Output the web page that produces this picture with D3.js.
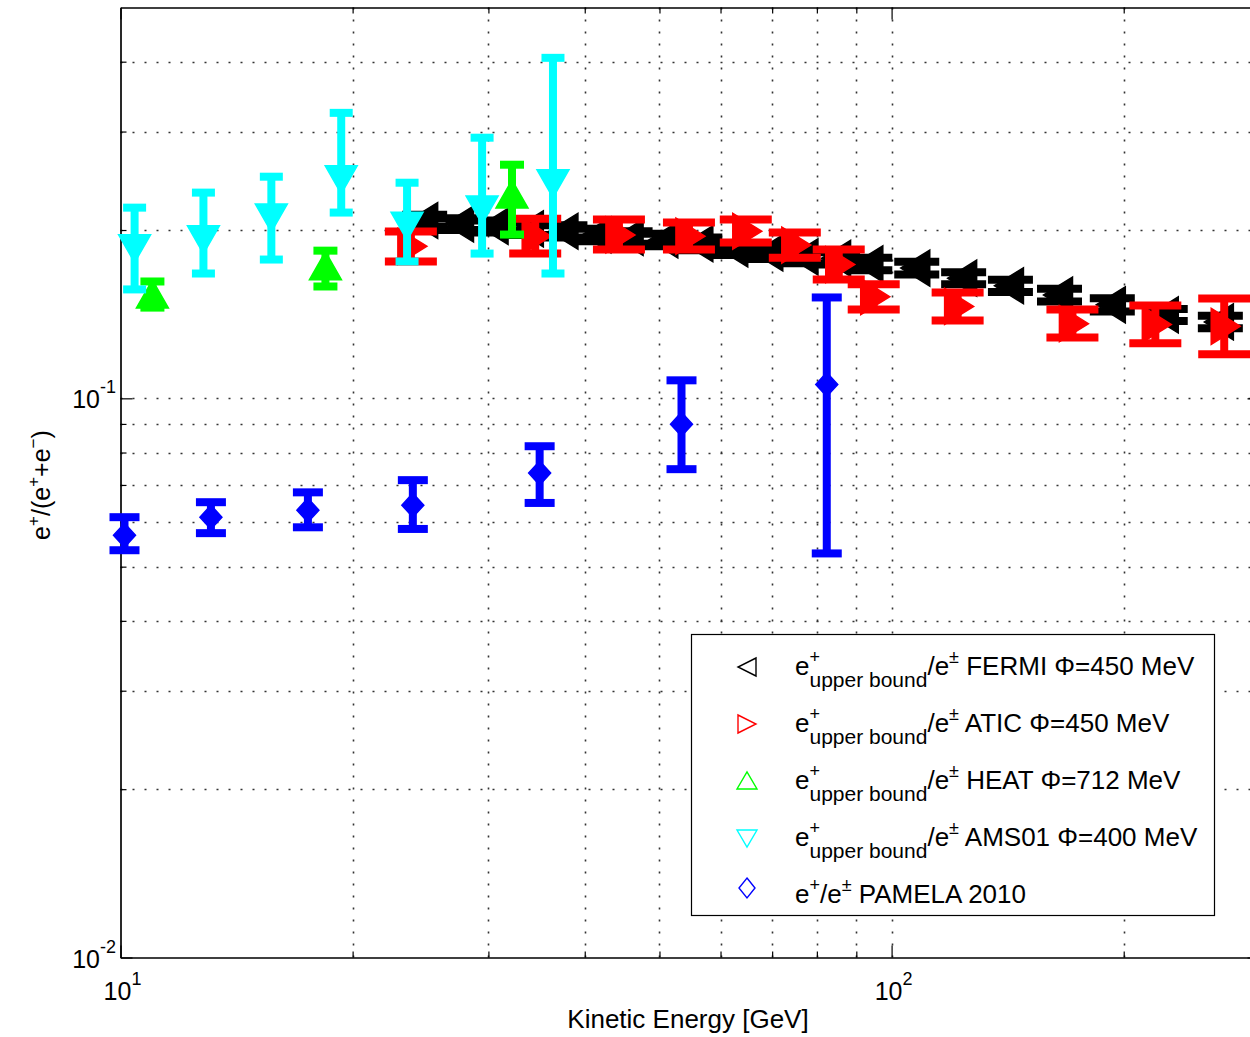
<!DOCTYPE html>
<html>
<head>
<meta charset="utf-8">
<script src="https://cdn.jsdelivr.net/npm/d3@7"></script>
<style>
body { margin: 0; background: #fff; }
text { font-family: "Liberation Sans", Arial, sans-serif; fill: #000; }
</style>
</head>
<body>
<div id="chart-area"></div>
<script>
// ---- data ----
// FERMI upper bound
var fermiE   = [24.8, 27.6, 30.6, 34.0, 37.7, 41.6, 45.8, 50.8, 56.4, 62.6, 69.5, 77.2, 85.1, 93.7, 107.8, 124.0, 142.6, 165.1, 193.3, 226.4, 266.9];
var fermiY   = [0.208, 0.205, 0.203, 0.201, 0.199, 0.196, 0.194, 0.192, 0.189, 0.185, 0.182, 0.179, 0.178, 0.174, 0.171, 0.164, 0.159, 0.153, 0.147, 0.141, 0.137];
var fermiErr = [0.005, 0.005, 0.005, 0.005, 0.005, 0.005, 0.005, 0.005, 0.005, 0.0045, 0.0045, 0.0045, 0.0045, 0.0045, 0.0045, 0.004, 0.004, 0.004, 0.004, 0.0035, 0.0035];

// ATIC upper bound
var aticE  = [23.8, 34.5, 44.3, 54.6, 64.7, 74.9, 85.4, 94.8, 121.8, 171.6, 219.8, 270.0];
var aticY  = [0.187, 0.195, 0.196, 0.195, 0.199, 0.188, 0.1735, 0.152, 0.146, 0.136, 0.1356, 0.1345];
var aticLo = [0.1757, 0.1815, 0.1846, 0.1846, 0.1899, 0.1785, 0.1632, 0.1442, 0.1378, 0.1285, 0.1254, 0.1199];
var aticHi = [0.1987, 0.2096, 0.2088, 0.2062, 0.2088, 0.1979, 0.1846, 0.1599, 0.1546, 0.1442, 0.1466, 0.1509];

// HEAT upper bound
var heatE  = [11.0, 18.44, 32.19];
var heatY  = [0.153, 0.172, 0.231];
var heatLo = [0.1453, 0.1585, 0.1963];
var heatHi = [0.1618, 0.1837, 0.2617];

// AMS01 upper bound
var amsE  = [10.43, 12.81, 15.69, 19.33, 23.53, 29.44, 36.38];
var amsY  = [0.186, 0.193, 0.211, 0.247, 0.204, 0.218, 0.243];
var amsLo = [0.1566, 0.1672, 0.1771, 0.2149, 0.1757, 0.1815, 0.1672];
var amsHi = [0.2193, 0.2333, 0.2491, 0.324, 0.243, 0.2925, 0.4064];

// PAMELA 2010
var pamE  = [10.12, 13.10, 17.50, 23.94, 34.96, 53.4, 82.4];
var pamY  = [0.0569, 0.0613, 0.0631, 0.0644, 0.0735, 0.0899, 0.1059];
var pamLo = [0.0535, 0.0574, 0.0588, 0.0584, 0.0650, 0.0747, 0.0528];
var pamHi = [0.0613, 0.0652, 0.0679, 0.0714, 0.0821, 0.1077, 0.1515];

var legendNames = ["FERMI \u03A6=450 MeV", "ATIC \u03A6=450 MeV", "HEAT \u03A6=712 MeV", "AMS01 \u03A6=400 MeV", "PAMELA 2010"];

// ticks / grid
var xMajor = [10, 100];
var xMinor = [20, 30, 40, 50, 60, 70, 80, 90, 200];
var yMajor = [0.01, 0.1];
var yMinor = [0.02, 0.03, 0.04, 0.05, 0.06, 0.07, 0.08, 0.09, 0.2, 0.3, 0.4];
var xLabels = [{v: 10, e: "1"}, {v: 100, e: "2"}];
var yLabels = [{v: 0.1, e: "-1"}, {v: 0.01, e: "-2"}];

// ---- layout ----
var width = 1250, height = 1037;
var x0 = 120.5, x1 = 1259.5, y0 = 957.5, y1 = 7.5;

var svg = d3.select("#chart-area")
    .append("svg")
    .attr("width", width)
    .attr("height", height);

var x = d3.scaleLog().domain([10, 300]).range([x0, x1]);
var y = d3.scaleLog().domain([0.01, 0.5]).range([y0, y1]);

// grid (dotted)
var grid = svg.append("g")
    .attr("stroke", "#333")
    .attr("stroke-width", 1.6)
    .attr("stroke-dasharray", "2,10");
grid.selectAll(".gx")
    .data(xMajor.concat(xMinor).filter(function(d){ return d > 10; }))
    .enter().append("line")
    .attr("x1", function(d){ return Math.round(x(d)) + 0.5; })
    .attr("x2", function(d){ return Math.round(x(d)) + 0.5; })
    .attr("y1", y0).attr("y2", y1);
grid.selectAll(".gy")
    .data(yMajor.concat(yMinor).filter(function(d){ return d > 0.01; }))
    .enter().append("line")
    .attr("y1", function(d){ return Math.round(y(d)) + 0.5; })
    .attr("y2", function(d){ return Math.round(y(d)) + 0.5; })
    .attr("x1", x0).attr("x2", x1);

// axes with inward ticks (matlab style)
function addAxis(axisFn, scale, vals, size, transform) {
    var g = svg.append("g")
        .attr("transform", transform)
        .call(axisFn(scale).tickValues(vals).tickSizeInner(size).tickSizeOuter(0).tickFormat(""));
    g.select(".domain").attr("stroke", "#000").attr("stroke-width", 1.2);
    g.selectAll(".tick line").attr("stroke", "#000").attr("stroke-width", 1.2);
}
addAxis(d3.axisBottom, x, xMajor, -12, "translate(0," + y0 + ")");
addAxis(d3.axisBottom, x, xMinor, -6, "translate(0," + y0 + ")");
addAxis(d3.axisTop, x, xMajor, -12, "translate(0," + y1 + ")");
addAxis(d3.axisTop, x, xMinor, -6, "translate(0," + y1 + ")");
addAxis(d3.axisLeft, y, yMajor, -12, "translate(" + x0 + ",0)");
addAxis(d3.axisLeft, y, yMinor, -6, "translate(" + x0 + ",0)");
addAxis(d3.axisRight, y, yMajor, -12, "translate(" + x1 + ",0)");
addAxis(d3.axisRight, y, yMinor, -6, "translate(" + x1 + ",0)");

// tick labels 10^n
xLabels.forEach(function(d) {
    var t = svg.append("text")
        .attr("x", x(d.v) + 2)
        .attr("y", y0 + 42)
        .attr("text-anchor", "middle")
        .attr("font-size", 25);
    t.append("tspan").text("10");
    t.append("tspan").attr("font-size", 18).attr("dy", -15).text(d.e);
});
yLabels.forEach(function(d) {
    var t = svg.append("text")
        .attr("x", 116)
        .attr("y", y(d.v) + 10)
        .attr("text-anchor", "end")
        .attr("font-size", 25);
    t.append("tspan").text("10");
    t.append("tspan").attr("font-size", 18).attr("dy", -15).text(d.e);
});

// axis titles
svg.append("text")
    .attr("x", 688)
    .attr("y", 1028)
    .attr("text-anchor", "middle")
    .attr("font-size", 26)
    .text("Kinetic Energy [GeV]");

var yt = svg.append("text")
    .attr("transform", "translate(50,485) rotate(-90)")
    .attr("text-anchor", "middle")
    .attr("font-size", 25);
yt.append("tspan").text("e");
yt.append("tspan").attr("font-size", 17).attr("dy", -11).text("+");
yt.append("tspan").attr("dy", 11).text("/(e");
yt.append("tspan").attr("font-size", 17).attr("dy", -11).text("+");
yt.append("tspan").attr("dy", 11).text("+e");
yt.append("tspan").attr("font-size", 17).attr("dy", -11).text("\u2212");
yt.append("tspan").attr("dy", 11).text(")");

// ---- markers ----
var shapes = {
    left:  [[13, -18], [13, 18], [-16, 0]],
    right: [[-13, -18], [-13, 18], [16, 0]],
    up:    [[-16, 13], [16, 13], [0, -15]],
    down:  [[-16, -13], [16, -13], [0, 15]],
    diamond: [[0, -12], [11, 0], [0, 12], [-11, 0]]
};
var legendShapes = {
    left:  [[9, -9], [9, 9], [-9, 0]],
    right: [[-9, -9], [-9, 9], [9, 0]],
    up:    [[-10, 8], [10, 8], [0, -9]],
    down:  [[-10, -8], [10, -8], [0, 9]],
    diamond: [[0, -10], [8, 0], [0, 10], [-8, 0]]
};
function pts(list) {
    return list.map(function(p){ return p[0] + "," + p[1]; }).join(" ");
}

var series = [
    {E: fermiE, Y: fermiY, lo: fermiY.map(function(v, i){ return v - fermiErr[i]; }),
     hi: fermiY.map(function(v, i){ return v + fermiErr[i]; }), color: "#000", cap: 45, shape: "left"},
    {E: aticE, Y: aticY, lo: aticLo, hi: aticHi, color: "#ff0000", cap: 52, shape: "right"},
    {E: heatE, Y: heatY, lo: heatLo, hi: heatHi, color: "#00ff00", cap: 24, shape: "up"},
    {E: amsE, Y: amsY, lo: amsLo, hi: amsHi, color: "#00ffff", cap: 23, shape: "down"},
    {E: pamE, Y: pamY, lo: pamLo, hi: pamHi, color: "#0000ff", cap: 30, shape: "diamond"}
];

series.forEach(function(s) {
    var data = s.E.map(function(e, i){ return {e: e, v: s.Y[i], lo: s.lo[i], hi: s.hi[i]}; });
    var g = svg.append("g").attr("stroke", s.color).attr("stroke-width", 8);
    g.selectAll(".stem").data(data).enter().append("line")
        .attr("x1", function(d){ return x(d.e); })
        .attr("x2", function(d){ return x(d.e); })
        .attr("y1", function(d){ return y(d.lo); })
        .attr("y2", function(d){ return y(d.hi); });
    g.selectAll(".capl").data(data).enter().append("line")
        .attr("x1", function(d){ return x(d.e) - s.cap / 2; })
        .attr("x2", function(d){ return x(d.e) + s.cap / 2; })
        .attr("y1", function(d){ return y(d.lo); })
        .attr("y2", function(d){ return y(d.lo); });
    g.selectAll(".caph").data(data).enter().append("line")
        .attr("x1", function(d){ return x(d.e) - s.cap / 2; })
        .attr("x2", function(d){ return x(d.e) + s.cap / 2; })
        .attr("y1", function(d){ return y(d.hi); })
        .attr("y2", function(d){ return y(d.hi); });
    svg.append("g").selectAll("polygon").data(data).enter().append("polygon")
        .attr("points", pts(shapes[s.shape]))
        .attr("transform", function(d){ return "translate(" + x(d.e) + "," + y(d.v) + ")"; })
        .attr("fill", s.color)
        .attr("stroke", s.color)
        .attr("stroke-width", 1.5);
});

// ---- legend ----
var lg = svg.append("g");
lg.append("rect")
    .attr("x", 691.5).attr("y", 634.5)
    .attr("width", 523).attr("height", 281)
    .attr("fill", "#fff").attr("stroke", "#000").attr("stroke-width", 1.2);

var rowBase = [675, 732, 789, 846, 903];
var rowMark = [667, 724, 781, 838, 888];

var tmp = svg.append("text").attr("font-size", 26).text("e");
var eW = tmp.node().getComputedTextLength();
tmp.remove();

series.forEach(function(s, i) {
    lg.append("polygon")
        .attr("points", pts(legendShapes[s.shape]))
        .attr("transform", "translate(747," + rowMark[i] + ")")
        .attr("fill", "none")
        .attr("stroke", s.color)
        .attr("stroke-width", 1.4);

    var t = lg.append("text").attr("x", 795).attr("y", rowBase[i]).attr("font-size", 26);
    t.append("tspan").text("e");
    t.append("tspan").attr("font-size", 18).attr("dy", -12).text("+");
    if (i < 4) {
        t.append("tspan").attr("x", 795 + eW).attr("dy", 24).attr("font-size", 21).text("upper bound");
        t.append("tspan").attr("dy", -12).text("/e");
    } else {
        t.append("tspan").attr("dy", 12).text("/e");
    }
    t.append("tspan").attr("font-size", 18).attr("dy", -12).text("\u00B1");
    t.append("tspan").attr("dy", 12).text(" " + legendNames[i]);
});
</script>
</body>
</html>
